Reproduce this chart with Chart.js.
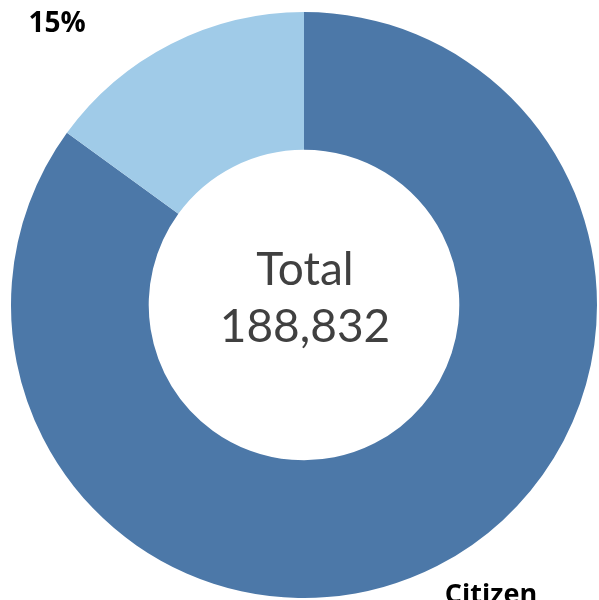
<!DOCTYPE html>
<html>
<head>
<meta charset="utf-8">
<script src="https://cdn.jsdelivr.net/npm/chart.js@4"></script>
<style>
  html, body { margin: 0; padding: 0; background: #fff; }
  #wrap { width: 599px; height: 600px; }
</style>
</head>
<body>
<div id="wrap"><canvas id="chart"></canvas></div>
<script>
const categories = ['Citizen', 'Non-citizen'];
const counts = [160507, 28325];
const sliceLabels = ['Citizen', '15%'];
const totalLabel = ['Total', '188,832'];

// labels sit outside the ring, where the original placed them
const labelSpots = [
  { x: 491, y: 603, size: 27 },
  { x: 57, y: 32, size: 28 }
];

const labelsPlugin = {
  id: 'ringLabels',
  afterDraw(chart) {
    const ctx = chart.ctx;
    const arc = chart.getDatasetMeta(0).data[0];
    ctx.save();
    ctx.fillStyle = '#404040';
    ctx.textAlign = 'center';
    ctx.textBaseline = 'alphabetic';
    ctx.font = '46px Lato';
    ctx.fillText(totalLabel[0], arc.x + 1, arc.y - 20);
    ctx.fillText(totalLabel[1], arc.x + 1, arc.y + 37);

    ctx.fillStyle = '#000';
    sliceLabels.forEach((t, i) => {
      const s = labelSpots[i];
      ctx.font = 'bold ' + s.size + 'px "Open Sans"';
      ctx.fillText(t, s.x, s.y);
    });
    ctx.restore();
  }
};

new Chart(document.getElementById('chart'), {
  type: 'doughnut',
  data: {
    labels: categories,
    datasets: [{
      data: counts,
      backgroundColor: ['#4c78a8', '#a0cbe8'],
      borderWidth: 0
    }]
  },
  options: {
    responsive: true,
    maintainAspectRatio: false,
    animation: false,
    cutout: '53%',
    layout: { padding: { left: 11, right: 2, top: 12, bottom: 2 } },
    plugins: {
      legend: { display: false },
      tooltip: { enabled: false }
    }
  },
  plugins: [labelsPlugin]
});
</script>
</body>
</html>
